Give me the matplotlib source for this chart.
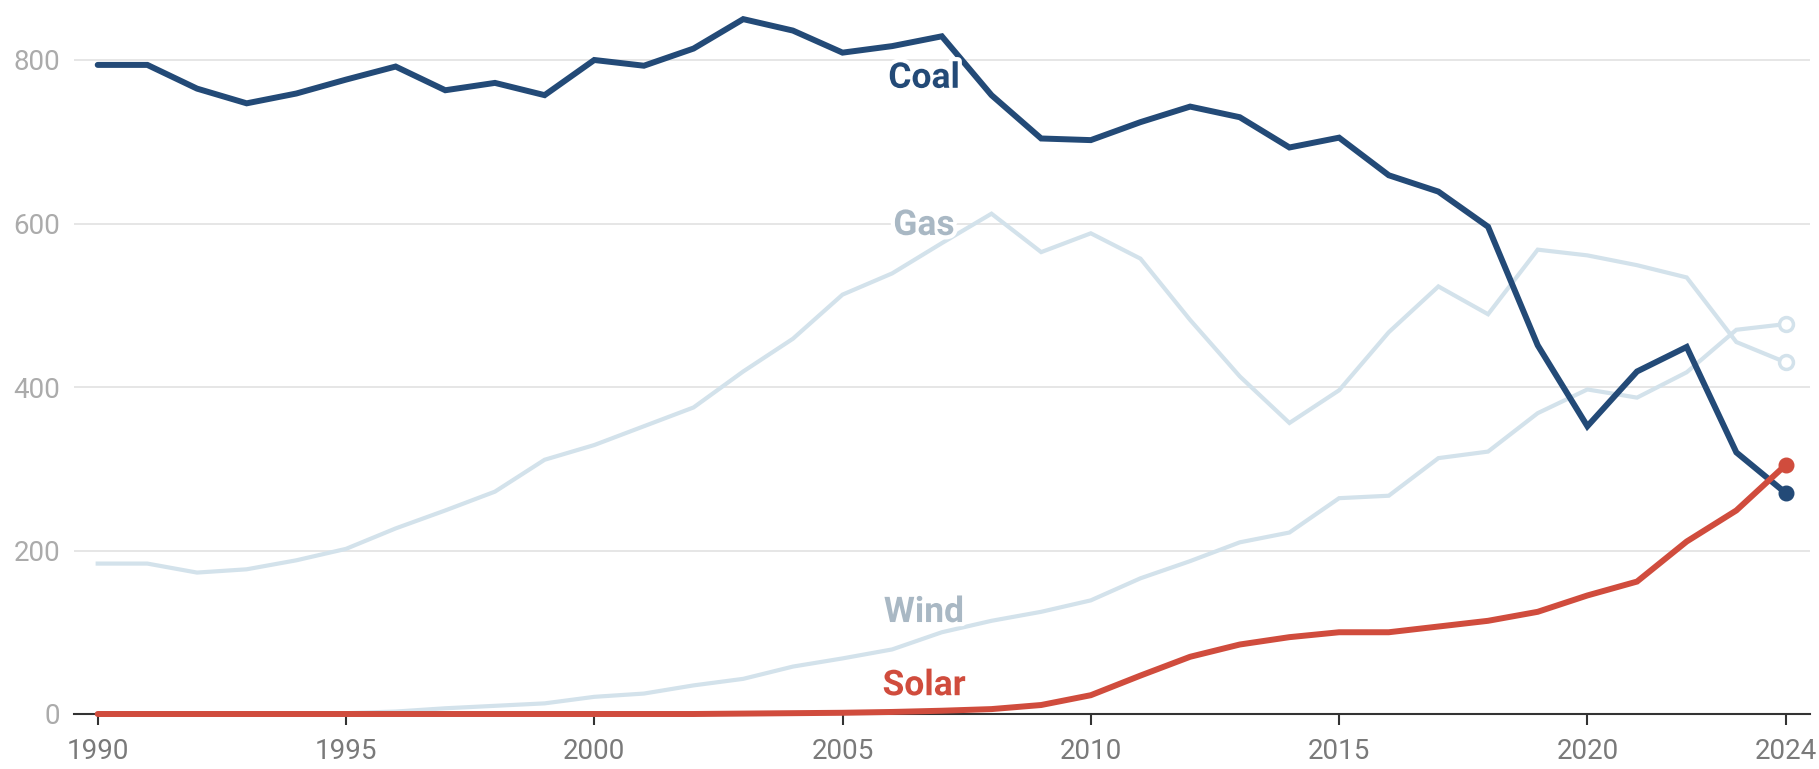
import matplotlib
matplotlib.use("Agg")
import matplotlib.pyplot as plt
import matplotlib.patheffects as pe

# ---- data ----
years = list(range(1990, 2025))
coal = [794, 794, 765, 747, 759, 776, 792, 763, 772, 757,
        800, 793, 814, 850, 836, 809, 817, 829, 757, 704,
        702, 724, 743, 730, 693, 705, 659, 639, 596, 451,
        352, 419, 449, 320, 270]
gas = [184, 184, 173, 177, 188, 202, 227, 249, 272, 311,
       329, 352, 375, 419, 459, 513, 539, 576, 612, 565,
       588, 557, 482, 413, 356, 396, 467, 523, 489, 568,
       561, 549, 534, 455, 430]
wind = [0, 0, 0, 0, 0, 1, 3, 7, 10, 13,
        21, 25, 35, 43, 58, 68, 79, 100, 114, 125,
        139, 166, 187, 210, 222, 264, 267, 313, 321, 368,
        397, 387, 418, 470, 477]
solar = [0, 0, 0, 0, 0, 0, 0, 0, 0, 0,
         0, 0, 0, 0.5, 1, 1.5, 2.5, 4, 6, 11,
         23, 47, 70, 85, 94, 100, 100, 107, 114, 125,
         145, 162, 211, 249, 305]
series_names = ["Coal", "Gas", "Wind", "Solar"]
x_ticks = [1990, 1995, 2000, 2005, 2010, 2015, 2020, 2024]
y_ticks = [0, 200, 400, 600, 800]

# ---- style ----
COAL_C = "#234a77"
SOLAR_C = "#d04c3d"
LIGHT_C = "#d3e2eb"
LIGHT_TXT = "#a9b8c4"

plt.rcParams["font.family"] = ["Roboto", "DejaVu Sans"]

W, H = 1819, 769
fig = plt.figure(figsize=(W / 100, H / 100), dpi=100)
ax_left, ax_right, ax_bottom, ax_top = 74, 1810, 714, 0
ax = fig.add_axes([ax_left / W, (H - ax_bottom) / H,
                   (ax_right - ax_left) / W, (ax_bottom - ax_top) / H])

px_per_unit = 0.8175
ax.set_ylim(0, (ax_bottom - ax_top) / px_per_unit)
ax.set_xlim(1990 - (97.7 - ax_left) / 49.66, 2024 + (ax_right - 1786) / 49.66)

# gridlines
for v in y_ticks[1:]:
    ax.axhline(v, color="#e6e6e6", lw=1.4, zorder=0)

# lines
ax.plot(years, gas, color=LIGHT_C, lw=3.0, zorder=2, solid_joinstyle="miter",
        clip_on=False)
ax.plot(years, wind, color=LIGHT_C, lw=3.0, zorder=2, solid_joinstyle="miter",
        clip_on=False)
ax.plot(years, coal, color=COAL_C, lw=4.3, zorder=4, solid_joinstyle="miter",
        solid_capstyle="round", clip_on=False)
ax.plot(years, solar, color=SOLAR_C, lw=4.3, zorder=5, solid_joinstyle="miter",
        solid_capstyle="round", clip_on=False)

# end markers
ax.plot([years[-1]], [gas[-1]], marker="o", ms=10, mfc="white", mec=LIGHT_C,
        mew=2.5, zorder=3, clip_on=False)
ax.plot([years[-1]], [wind[-1]], marker="o", ms=10, mfc="white", mec=LIGHT_C,
        mew=2.5, zorder=3, clip_on=False)
ax.plot([years[-1]], [coal[-1]], marker="o", ms=10.5, color=COAL_C, zorder=4,
        clip_on=False)
ax.plot([years[-1]], [solar[-1]], marker="o", ms=10.5, color=SOLAR_C, zorder=6,
        clip_on=False)

# series labels
label_x = 2006.64
label_pos = {"Coal": 766, "Gas": 586, "Wind": 112.5, "Solar": 23}
label_col = {"Coal": COAL_C, "Gas": LIGHT_TXT, "Wind": LIGHT_TXT, "Solar": SOLAR_C}
for name in series_names:
    ax.text(label_x, label_pos[name], name, ha="center", va="baseline",
            fontsize=25.5, fontweight="bold", color=label_col[name], zorder=7,
            path_effects=[pe.withStroke(linewidth=6, foreground="white")])

# axes styling
for s in ["top", "right", "left"]:
    ax.spines[s].set_visible(False)
ax.spines["bottom"].set_color("#333333")
ax.spines["bottom"].set_linewidth(1.5)
ax.spines["bottom"].set_zorder(3)

ax.set_xticks(x_ticks)
ax.set_xticklabels([str(t) for t in x_ticks])
ax.set_yticks(y_ticks)
ax.set_yticklabels([str(t) for t in y_ticks])
ax.tick_params(axis="x", length=8, width=1.5, color="#333333", pad=9,
               labelsize=20, labelcolor="#7a7a7a")
ax.tick_params(axis="y", length=0, pad=10, labelsize=20, labelcolor="#ababab")
ax.set_facecolor("white")
fig.patch.set_facecolor("white")

fig.savefig("out.png", dpi=100, facecolor="white")
